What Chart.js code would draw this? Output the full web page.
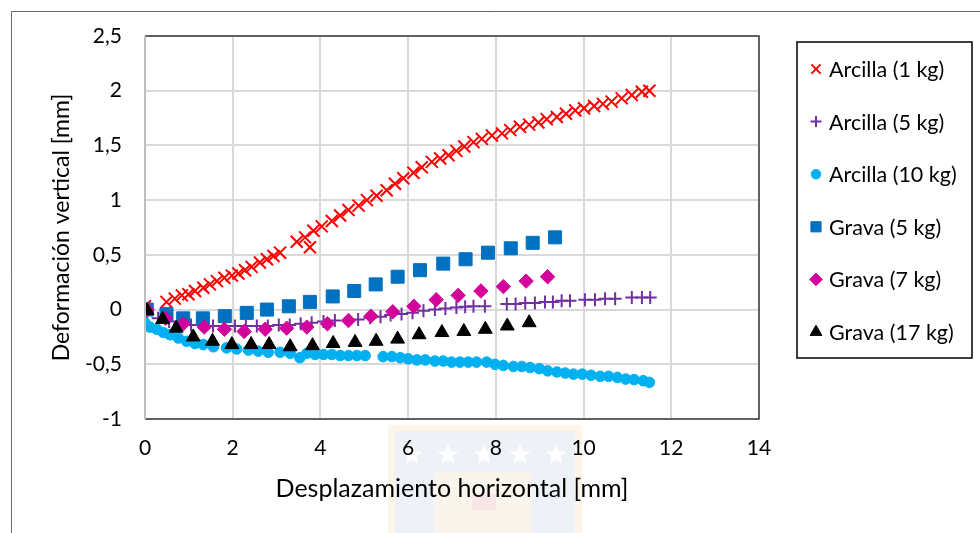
<!DOCTYPE html>
<html>
<head>
<meta charset="utf-8">
<script src="https://cdn.jsdelivr.net/npm/chart.js@4.4.1/dist/chart.umd.min.js"></script>
<style>
  html, body { margin: 0; padding: 0; background: #fff; }
  #wrap { width: 980px; height: 533px; position: relative; }
</style>
</head>
<body>
<div id="wrap"><canvas id="grafico" width="980" height="533"></canvas></div>
<script>
// datos (desplazamiento horizontal, deformacion vertical) en mm
const arcilla1X = [0.0, 0.49, 0.68, 0.84, 0.99, 1.14, 1.33, 1.48, 1.64, 1.81, 1.98, 2.13, 2.28, 2.43, 2.62, 2.78, 2.93, 3.08,
  3.46, 3.65, 3.76, 3.84, 4.03, 4.26, 4.45, 4.64, 4.87, 5.06, 5.28, 5.51, 5.70, 5.89, 6.12, 6.31, 6.54, 6.73, 6.92, 7.10,
  7.28, 7.49, 7.68, 7.91, 8.14, 8.33, 8.55, 8.76, 8.97, 9.16, 9.39, 9.60, 9.81, 10.01, 10.24, 10.44, 10.64, 10.87, 11.10, 11.33, 11.50];
const arcilla1Y = [0.03, 0.07, 0.10, 0.13, 0.14, 0.17, 0.20, 0.23, 0.26, 0.29, 0.31, 0.33, 0.36, 0.39, 0.43, 0.46, 0.49, 0.52,
  0.62, 0.66, 0.57, 0.72, 0.76, 0.81, 0.86, 0.91, 0.95, 1.00, 1.04, 1.09, 1.15, 1.20, 1.25, 1.30, 1.35, 1.38, 1.41, 1.45,
  1.49, 1.53, 1.56, 1.59, 1.61, 1.64, 1.67, 1.69, 1.71, 1.74, 1.76, 1.79, 1.82, 1.84, 1.86, 1.88, 1.90, 1.93, 1.96, 1.99, 2.00];

const arcilla5X = [0.05, 0.30, 0.55, 0.80, 1.05, 1.30, 1.55, 1.80, 2.05, 2.30, 2.55, 2.80, 3.05, 3.30, 3.55, 3.80, 4.07, 4.33,
  4.86, 5.13, 5.37, 5.60, 5.85, 6.10, 6.35, 6.61, 6.85, 7.10, 7.30, 7.49, 7.75, 8.25, 8.45, 8.67, 8.89, 9.12, 9.30, 9.50,
  9.69, 10.03, 10.26, 10.49, 10.72, 11.10, 11.33, 11.52];
const arcilla5Y = [-0.02, -0.08, -0.11, -0.13, -0.14, -0.14, -0.15, -0.15, -0.15, -0.15, -0.15, -0.15, -0.14, -0.14, -0.13, -0.12, -0.11, -0.10,
  -0.09, -0.075, -0.065, -0.05, -0.04, -0.03, -0.01, 0.0, 0.01, 0.02, 0.025, 0.03, 0.03, 0.05, 0.05, 0.06, 0.06, 0.07, 0.07, 0.08,
  0.08, 0.09, 0.09, 0.10, 0.10, 0.11, 0.11, 0.11];

const arcilla10X = [0.0, 0.11, 0.27, 0.42, 0.57, 0.76, 0.95, 1.14, 1.33, 1.56, 1.86, 2.09, 2.36, 2.58, 2.81, 3.08, 3.31, 3.53,
  3.69, 3.88, 4.07, 4.26, 4.45, 4.64, 4.83, 5.02, 5.43, 5.63, 5.82, 6.00, 6.20, 6.39, 6.61, 6.80, 6.99, 7.18, 7.37, 7.56,
  7.79, 7.98, 8.17, 8.40, 8.59, 8.78, 8.99, 9.18, 9.39, 9.58, 9.77, 9.97, 10.17, 10.38, 10.57, 10.77, 10.96, 11.15, 11.36, 11.50];
const arcilla10Y = [-0.12, -0.16, -0.18, -0.21, -0.23, -0.26, -0.29, -0.31, -0.32, -0.34, -0.35, -0.36, -0.37, -0.38, -0.39, -0.39, -0.40, -0.44,
  -0.40, -0.41, -0.41, -0.41, -0.42, -0.42, -0.42, -0.42, -0.43, -0.43, -0.44, -0.45, -0.46, -0.46, -0.47, -0.47, -0.48, -0.48, -0.48, -0.48,
  -0.48, -0.50, -0.51, -0.52, -0.52, -0.53, -0.54, -0.56, -0.57, -0.58, -0.59, -0.59, -0.60, -0.61, -0.61, -0.62, -0.635, -0.64, -0.65, -0.665];

const grava5X = [0.04, 0.49, 0.87, 1.32, 1.82, 2.32, 2.78, 3.28, 3.76, 4.28, 4.77, 5.26, 5.76, 6.27, 6.80, 7.31, 7.82, 8.34, 8.84, 9.35];
const grava5Y = [0.0, -0.04, -0.08, -0.08, -0.06, -0.03, 0.0, 0.03, 0.07, 0.12, 0.17, 0.23, 0.30, 0.36, 0.42, 0.46, 0.52, 0.56, 0.61, 0.66];

const grava7X = [0.05, 0.47, 0.87, 1.35, 1.81, 2.26, 2.74, 3.23, 3.69, 4.16, 4.64, 5.15, 5.65, 6.13, 6.64, 7.14, 7.66, 8.17, 8.69, 9.18];
const grava7Y = [0.0, -0.08, -0.13, -0.16, -0.18, -0.20, -0.18, -0.17, -0.16, -0.13, -0.10, -0.06, -0.02, 0.03, 0.09, 0.13, 0.17, 0.21, 0.26, 0.30];

const grava17X = [0.05, 0.40, 0.71, 1.10, 1.54, 1.98, 2.42, 2.83, 3.31, 3.82, 4.29, 4.79, 5.27, 5.76, 6.25, 6.77, 7.27, 7.76, 8.26, 8.76];
const grava17Y = [-0.01, -0.09, -0.17, -0.25, -0.29, -0.32, -0.32, -0.32, -0.34, -0.33, -0.31, -0.30, -0.29, -0.27, -0.23, -0.21, -0.20, -0.18, -0.15, -0.12];

const seriesNames = ['Arcilla (1 kg)', 'Arcilla (5 kg)', 'Arcilla (10 kg)', 'Grava (5 kg)', 'Grava (7 kg)', 'Grava (17 kg)'];
const xTicks = [0, 2, 4, 6, 8, 10, 12, 14];
const yTicks = [-1, -0.5, 0, 0.5, 1, 1.5, 2, 2.5];

const FONT = 'Lato, "Liberation Sans", sans-serif';

function pares(xs, ys) {
  return xs.map((x, i) => ({ x: x, y: ys[i] }));
}

const estilos = [
  { pointStyle: 'crossRot', radius: 8.5, color: '#ff0000', fill: '#ff0000', bw: 2, legR: 6.5 },
  { pointStyle: 'cross', radius: 6.5, color: '#7030a0', fill: '#7030a0', bw: 2, legR: 5.5 },
  { pointStyle: 'circle', radius: 5.3, color: '#00b0f0', fill: '#00b0f0', bw: 1, legR: 4.8 },
  { pointStyle: 'rect', radius: 9.2, color: '#0070c0', fill: '#0070c0', bw: 1, legR: 7.2 },
  { pointStyle: 'rectRot', radius: 7.2, color: '#d2049b', fill: '#d2049b', bw: 1, legR: 6.3 },
  { pointStyle: 'triangle', radius: 8, color: '#000000', fill: '#000000', bw: 1, legR: 6.8 }
];

const datos = [
  pares(arcilla1X, arcilla1Y),
  pares(arcilla5X, arcilla5Y),
  pares(arcilla10X, arcilla10Y),
  pares(grava5X, grava5Y),
  pares(grava7X, grava7Y),
  pares(grava17X, grava17Y)
];

const datasets = datos.map((d, i) => ({
  label: seriesNames[i],
  data: d,
  pointStyle: estilos[i].pointStyle,
  pointRadius: estilos[i].radius,
  pointHoverRadius: estilos[i].radius,
  pointBorderWidth: estilos[i].bw,
  borderColor: estilos[i].color,
  backgroundColor: estilos[i].fill,
  showLine: false,
  order: 6 - i // como Excel: la ultima serie queda encima
}));

function estrella(ctx, cx, cy, r) {
  ctx.beginPath();
  for (let k = 0; k < 10; k++) {
    const rr = k % 2 ? r * 0.42 : r;
    const ang = -Math.PI / 2 + k * Math.PI / 5;
    ctx.lineTo(cx + rr * Math.cos(ang), cy + rr * Math.sin(ang));
  }
  ctx.closePath();
  ctx.fill();
}

// marca de agua tenue bajo el titulo del eje x
const fondo = {
  id: 'fondo',
  beforeDraw(chart) {
    const ctx = chart.ctx;
    ctx.save();
    ctx.fillStyle = '#fdf6e8';
    ctx.fillRect(388, 425, 194, 108);
    ctx.fillStyle = '#eef1f7';
    ctx.fillRect(395, 431, 180, 102);
    ctx.fillStyle = '#ffffff';
    [412, 448, 484, 520, 556].forEach(cx => estrella(ctx, cx, 455, 11));
    ctx.fillStyle = '#f9f4ec';
    ctx.fillRect(434, 472, 98, 61);
    ctx.fillStyle = '#f8e6e6';
    ctx.fillRect(472, 494, 24, 16);
    ctx.restore();
  },
  afterDraw(chart) {
    const ctx = chart.ctx;
    const a = chart.chartArea;
    ctx.save();
    // marco exterior (solo visible arriba e izquierda)
    ctx.strokeStyle = '#6b6b6b';
    ctx.lineWidth = 1;
    ctx.beginPath();
    ctx.moveTo(11.5, 533);
    ctx.lineTo(11.5, 11.5);
    ctx.lineTo(980, 11.5);
    ctx.stroke();
    // borde del area de trazado
    ctx.strokeStyle = '#3a3a3a';
    ctx.lineWidth = 1.5;
    ctx.beginPath();
    ctx.moveTo(a.left, a.top);
    ctx.lineTo(a.right, a.top);
    ctx.lineTo(a.right, a.bottom);
    ctx.lineTo(a.left, a.bottom);
    ctx.stroke();
    ctx.strokeStyle = '#bfbfbf';
    ctx.lineWidth = 2;
    ctx.beginPath();
    ctx.moveTo(a.left, a.top);
    ctx.lineTo(a.left, a.bottom);
    ctx.stroke();

    // leyenda con recuadro
    ctx.strokeStyle = '#000';
    ctx.lineWidth = 1.5;
    ctx.strokeRect(797, 42, 175, 316);
    ctx.font = '21.5px ' + FONT;
    ctx.textBaseline = 'middle';
    ctx.textAlign = 'left';
    seriesNames.forEach((name, i) => {
      const y = 69 + i * 52.6;
      const e = estilos[i];
      ctx.fillStyle = e.fill;
      ctx.strokeStyle = e.color;
      ctx.lineWidth = e.bw;
      Chart.helpers.drawPoint(ctx, { pointStyle: e.pointStyle, radius: e.legR, rotation: 0, borderWidth: e.bw }, 816, y);
      ctx.fillStyle = '#000';
      ctx.fillText(name, 829, y + 1);
    });
    ctx.restore();
  }
};

new Chart(document.getElementById('grafico'), {
  type: 'scatter',
  data: { datasets: datasets },
  options: {
    responsive: false,
    devicePixelRatio: 1,
    animation: false,
    layout: { padding: { left: 0, right: 221, top: 36, bottom: 0 } },
    plugins: {
      legend: { display: false },
      tooltip: { enabled: false }
    },
    scales: {
      x: {
        type: 'linear',
        min: 0,
        max: 14,
        afterBuildTicks: (s) => { s.ticks = xTicks.map(v => ({ value: v })); },
        afterFit: (s) => { s.height = 114; },
        ticks: { color: '#000', padding: 17, font: { family: FONT, size: 21 } },
        grid: { color: '#d9d9d9', lineWidth: 2, drawTicks: false },
        border: { display: false },
        title: {
          display: true,
          text: 'Desplazamiento horizontal [mm]',
          color: '#000',
          font: { family: FONT, size: 25 },
          padding: { top: 0, bottom: 29 }
        }
      },
      y: {
        type: 'linear',
        min: -1,
        max: 2.5,
        afterBuildTicks: (s) => { s.ticks = yTicks.map(v => ({ value: v })); },
        afterFit: (s) => { s.width = 145; },
        ticks: {
          color: '#000',
          padding: 23,
          font: { family: FONT, size: 21 },
          callback: (v) => String(v).replace('.', ',')
        },
        grid: { color: '#d9d9d9', lineWidth: 2, drawTicks: false },
        border: { display: false },
        title: {
          display: true,
          text: 'Deformación vertical [mm]',
          color: '#000',
          font: { family: FONT, size: 23 },
          padding: { top: 48, bottom: 0 }
        }
      }
    }
  },
  plugins: [fondo]
});
</script>
</body>
</html>
